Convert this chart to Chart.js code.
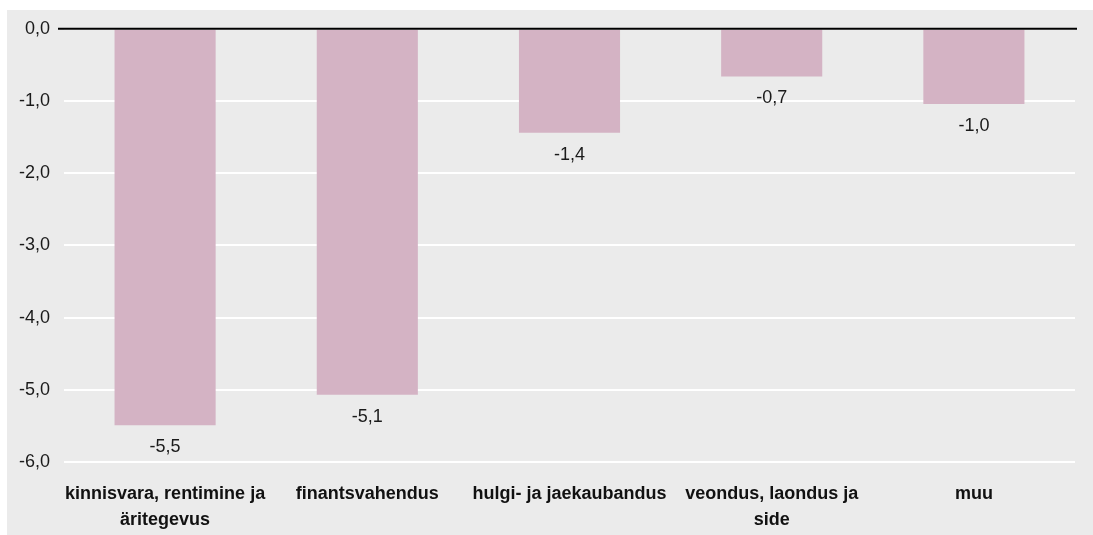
<!DOCTYPE html>
<html>
<head>
<meta charset="utf-8">
<script src="https://cdn.jsdelivr.net/npm/chart.js@4/dist/chart.umd.min.js"></script>
<style>
    html, body { margin: 0; padding: 0; background: #ffffff; }
    #box { position: absolute; left: 7px; top: 10px; width: 1086px; height: 525px; background: #ebebeb; }
    #chart { position: absolute; left: 0; top: -6px; }
</style>
</head>
<body>
<div id="box"><canvas id="chart" width="1086" height="531"></canvas></div>
<script>
// data
var categories = [
    ['kinnisvara, rentimine ja', 'äritegevus'],
    'finantsvahendus',
    'hulgi- ja jaekaubandus',
    ['veondus, laondus ja', 'side'],
    'muu'
];
var values = [-5.49, -5.07, -1.44, -0.66, -1.04];
var yTicks = [0, -1, -2, -3, -4, -5, -6];

function fmt(v) {
    return v.toFixed(1).replace('.', ',');
}

// zero line + value labels under the bars
var extras = {
    id: 'extras',
    afterDatasetsDraw: function(chart) {
        var ctx = chart.ctx;
        var area = chart.chartArea;
        var y0 = chart.scales.y.getPixelForValue(0);
        ctx.save();
        ctx.strokeStyle = '#000000';
        ctx.lineWidth = 2;
        ctx.beginPath();
        ctx.moveTo(area.left - 6, y0);
        ctx.lineTo(area.right + 2, y0);
        ctx.stroke();

        ctx.fillStyle = '#1a1a1a';
        ctx.font = '18px "Liberation Sans", Arial, sans-serif';
        ctx.textAlign = 'center';
        ctx.textBaseline = 'middle';
        chart.getDatasetMeta(0).data.forEach(function(bar, i) {
            ctx.fillText(fmt(values[i]), bar.x, bar.y + 22);
        });
        ctx.restore();
    }
};

var ctx = document.getElementById('chart');
var myChart = new Chart(ctx, {
    type: 'bar',
    data: {
        labels: categories,
        datasets: [{
            data: values,
            backgroundColor: '#d4b3c4',
            borderWidth: 0,
            barPercentage: 0.5,
            categoryPercentage: 1.0
        }]
    },
    options: {
        responsive: false,
        animation: false,
        layout: { padding: { left: 0, top: 12, right: 18, bottom: 0 } },
        plugins: {
            legend: { display: false },
            tooltip: { enabled: false }
        },
        scales: {
            x: {
                position: 'bottom',
                grid: { display: false, drawTicks: false },
                border: { display: false },
                ticks: {
                    color: '#111111',
                    padding: 19,
                    maxRotation: 0,
                    autoSkip: false,
                    font: { family: '"Liberation Sans", Arial, sans-serif', size: 18, weight: 'bold', lineHeight: 1.45 }
                },
                afterFit: function(scale) { scale.height = 73; }
            },
            y: {
                min: -6,
                max: 0,
                grid: { color: '#ffffff', lineWidth: 2, drawTicks: false },
                border: { display: false },
                afterBuildTicks: function(scale) {
                    scale.ticks = yTicks.map(function(v) { return { value: v }; });
                },
                ticks: {
                    color: '#1a1a1a',
                    padding: 14,
                    font: { family: '"Liberation Sans", Arial, sans-serif', size: 18 },
                    callback: function(v) { return fmt(v); }
                },
                afterFit: function(scale) { scale.width = 57; }
            }
        }
    },
    plugins: [extras]
});
</script>
</body>
</html>
